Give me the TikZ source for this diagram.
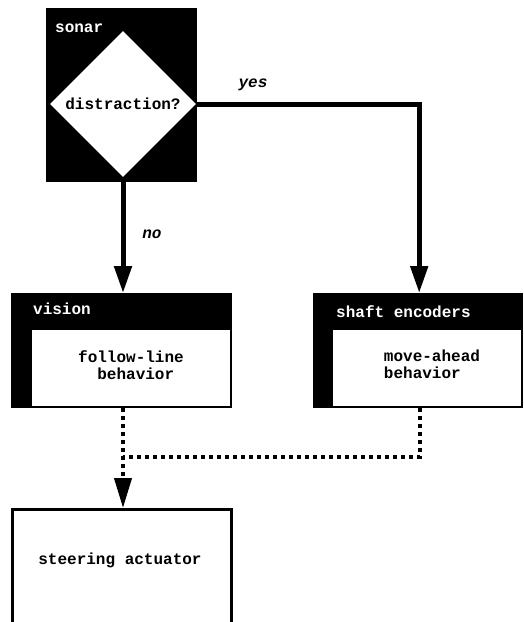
\documentclass[tikz,border=0pt]{standalone}
\usepackage{fontspec}
\setmonofont{Liberation Mono}
\usetikzlibrary{shapes.geometric,arrows.meta}

\tikzset{
  lbl/.style={font=\ttfamily\bfseries\fontsize{16}{17}\selectfont, inner sep=0pt},
  edgelbl/.style={font=\ttfamily\bfseries\itshape\fontsize{16}{17}\selectfont, inner sep=0pt},
  blackbox/.style={fill=black, draw=none, anchor=north west, inner sep=0pt},
  whitebox/.style={fill=white, draw=none, anchor=north west, inner sep=0pt},
  sensor/.style={lbl, text=white, anchor=west},
  flow/.style={line width=5pt, -{Triangle[length=27pt,width=17pt]}},
  merge/.style={line width=4pt, dash pattern=on 4pt off 4pt},
}

\begin{document}
\begin{tikzpicture}[x=1pt,y=-1pt]
\useasboundingbox[fill=white] (0,0) rectangle (523,622);

% sonar module with its decision diamond
\node[blackbox, minimum width=151pt, minimum height=174pt] (sonar) at (46,8) {};
\node[sensor] (sonarlbl) at (55,28) {sonar};
\node[diamond, fill=white, inner sep=0pt, minimum width=146pt, minimum height=146pt, lbl] (dia) at (123,104) {distraction?};

% vision module
\node[blackbox, minimum width=221pt, minimum height=115pt] (vision) at (11,293) {};
\node[sensor] (visionlbl) at (33,309) {vision};
\node[whitebox, minimum width=198pt, minimum height=76pt] (follow) at (32,330) {};
\node[lbl, align=center] (followtxt) at (131,365) {follow-line\\\hphantom{b}behavior};

% shaft encoder module
\node[blackbox, minimum width=210pt, minimum height=115pt] (shaft) at (313,293) {};
\node[sensor] (shaftlbl) at (336,312) {shaft encoders};
\node[whitebox, minimum width=188pt, minimum height=76pt] (move) at (333,330) {};
\node[lbl, align=left] (movetxt) at (432,364) {move-ahead\\behavior};

% steering actuator
\node[draw, line width=2.5pt, anchor=north west, minimum width=219pt, minimum height=140pt, inner sep=0pt] (steer) at (11,508) {};
\node[lbl] (steertxt) at (120,560) {steering actuator};

% decision branches
\draw[flow] (dia.south) -- (dia.south |- vision.north);
\node[edgelbl] (nolbl) at (152,234) {no};
\draw[flow] (dia.east) -| ([xshift=1pt]shaft.north);
\node[edgelbl] (yeslbl) at (253,85) {yes};

% behaviour outputs merged onto the actuator
\coordinate (join) at (123,457);
\draw[merge] ([xshift=2pt]shaft.south) |- (join);
\draw[merge, -{Triangle[length=30pt,width=17pt]}] (dia.south |- vision.south) -- (dia.south |- steer.north);
\end{tikzpicture}
\end{document}
